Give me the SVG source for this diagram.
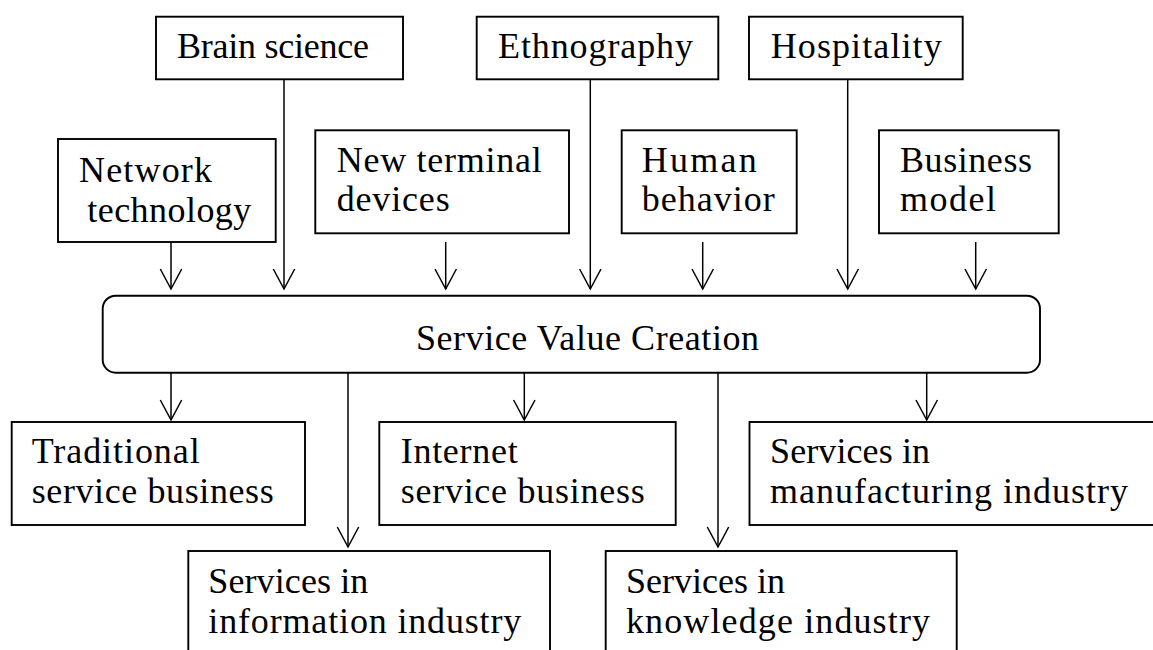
<svg xmlns="http://www.w3.org/2000/svg" width="1153" height="650" viewBox="0 0 1153 650">
<style>
.box{fill:#fff;stroke:#000;stroke-width:1.9}
.t{font-family:"Liberation Serif","Times New Roman",serif;font-size:36px;fill:#000}
.c{fill:none;stroke:#000;stroke-width:1.5;marker-end:url(#arr)}
</style>
<defs>
<marker id="arr" markerUnits="userSpaceOnUse" viewBox="-22 -12 24 24" refX="0" refY="0" markerWidth="24" markerHeight="24" orient="auto" overflow="visible">
<path d="M-20,-10.7 L0,0 L-20,10.7" fill="none" stroke="#000" stroke-width="1.5"/>
</marker>
</defs>
<rect width="1153" height="650" fill="#fff"/>
<g id="connectors">
<line class="c" x1="171" y1="243" x2="171" y2="289"/>
<line class="c" x1="284" y1="80" x2="284" y2="289"/>
<line class="c" x1="445.7" y1="242" x2="445.7" y2="289"/>
<line class="c" x1="590.3" y1="80" x2="590.3" y2="289"/>
<line class="c" x1="702.7" y1="242" x2="702.7" y2="289"/>
<line class="c" x1="847.7" y1="80" x2="847.7" y2="289"/>
<line class="c" x1="975.7" y1="242" x2="975.7" y2="289"/>
<line class="c" x1="171" y1="373" x2="171" y2="420"/>
<line class="c" x1="348" y1="373" x2="348" y2="547"/>
<line class="c" x1="524.3" y1="373" x2="524.3" y2="420"/>
<line class="c" x1="718" y1="373" x2="718" y2="547"/>
<line class="c" x1="926.7" y1="373" x2="926.7" y2="420"/>
</g>
<g id="brain">
<rect class="box" x="156" y="16.7" width="247" height="62.6"/>
<text class="t" x="177" y="58" textLength="192">Brain science</text>
</g>
<g id="ethno">
<rect class="box" x="476.7" y="16.7" width="241.6" height="62.6"/>
<text class="t" x="498" y="58" textLength="195">Ethnography</text>
</g>
<g id="hosp">
<rect class="box" x="749" y="16.7" width="213.7" height="62.6"/>
<text class="t" x="770.7" y="58" textLength="171">Hospitality</text>
</g>
<g id="network">
<rect class="box" x="58" y="139" width="217.7" height="103"/>
<text class="t" x="79" y="182" textLength="133">Network</text>
<text class="t" x="87.3" y="222" textLength="164">technology</text>
</g>
<g id="terminal">
<rect class="box" x="315.3" y="130.3" width="253.7" height="103"/>
<text class="t" x="336.7" y="172" textLength="205">New terminal</text>
<text class="t" x="336.7" y="211" textLength="113">devices</text>
</g>
<g id="human">
<rect class="box" x="621.7" y="130.3" width="175" height="103"/>
<text class="t" x="641.7" y="172" textLength="115">Human</text>
<text class="t" x="641.7" y="211" textLength="133">behavior</text>
</g>
<g id="bizmodel">
<rect class="box" x="879" y="130.3" width="179.7" height="103"/>
<text class="t" x="900" y="172" textLength="132">Business</text>
<text class="t" x="900" y="211" textLength="96">model</text>
</g>
<g id="svc">
<rect class="box" x="102.7" y="295.7" width="937.3" height="77" rx="13" ry="13"/>
<text class="t" x="416" y="350" textLength="343">Service Value Creation</text>
</g>
<g id="traditional">
<rect class="box" x="11.7" y="422" width="293.3" height="103"/>
<text class="t" x="31.7" y="463.3" textLength="168">Traditional</text>
<text class="t" x="31.7" y="503.3" textLength="242">service business</text>
</g>
<g id="internet">
<rect class="box" x="379.3" y="422" width="296.4" height="103"/>
<text class="t" x="400.7" y="463.3" textLength="117">Internet</text>
<text class="t" x="400.7" y="503.3" textLength="244">service business</text>
</g>
<g id="manufacturing">
<rect class="box" x="749.5" y="422" width="410" height="103"/>
<text class="t" x="770" y="463.3" textLength="160">Services in</text>
<text class="t" x="770" y="503.3" textLength="358">manufacturing industry</text>
</g>
<g id="information">
<rect class="box" x="188.3" y="551" width="361.7" height="110"/>
<text class="t" x="208.3" y="593.3" textLength="160">Services in</text>
<text class="t" x="208.3" y="633.3" textLength="313">information industry</text>
</g>
<g id="knowledge">
<rect class="box" x="605.7" y="551" width="351" height="110"/>
<text class="t" x="626" y="593.3" textLength="159">Services in</text>
<text class="t" x="626" y="633.3" textLength="304">knowledge industry</text>
</g>
</svg>
